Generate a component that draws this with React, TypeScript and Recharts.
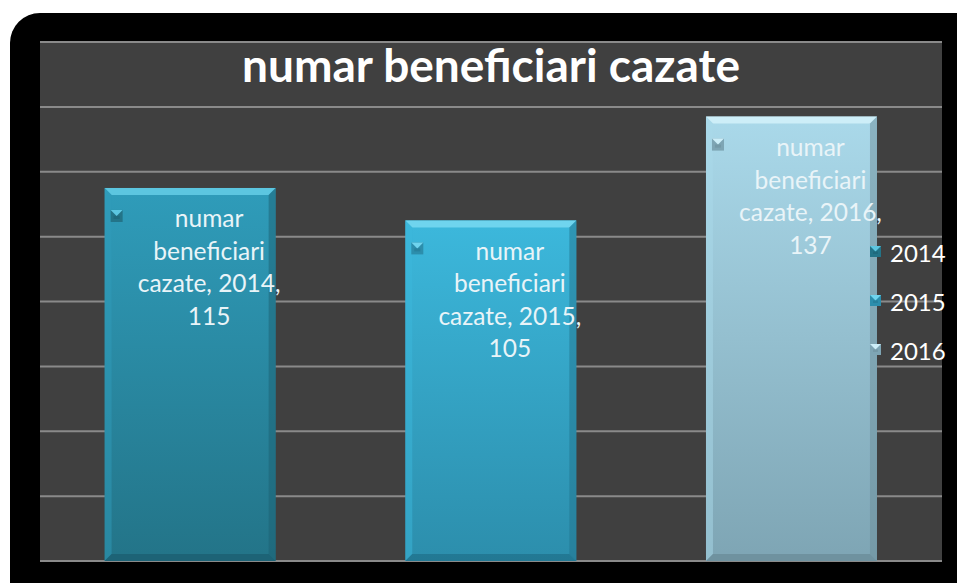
import React from "react";
import { BarChart, Bar, XAxis, YAxis, CartesianGrid, Cell, LabelList } from "recharts";

const seriesName = "numar beneficiari cazate";
const years = ["2014", "2015", "2016"];
const values = [115, 105, 137];
const yTicks = [0, 20, 40, 60, 80, 100, 120, 140, 160];

// top / bottom / bevel colours per year
const palette = [
  { top: "#2f9cba", bottom: "#237488", light: "#5cc6e0", dark: "#1b5f72" },
  { top: "#3cb8dc", bottom: "#2c8eac", light: "#6fd4ee", dark: "#21738d" },
  { top: "#aad9ea", bottom: "#7ea5b4", light: "#cdeef8", dark: "#6b8d9a" },
];

const data = years.map((year, i) => ({ year, value: values[i] }));

const FONT = "Lato, 'Open Sans', sans-serif";

function BevelBar(props: any) {
  const { x, y, width, height, index } = props;
  const c = palette[index];
  const b = 7;
  return (
    <g>
      <rect x={x} y={y} width={width} height={height} fill={`url(#barGrad${index})`} />
      <polygon points={`${x},${y} ${x + width},${y} ${x + width - b},${y + b} ${x + b},${y + b}`} fill={c.light} />
      <polygon points={`${x},${y} ${x + b},${y + b} ${x + b},${y + height - b} ${x},${y + height}`} fill={c.top} opacity={0.5} />
      <polygon points={`${x + width},${y} ${x + width - b},${y + b} ${x + width - b},${y + height - b} ${x + width},${y + height}`} fill={c.dark} opacity={0.5} />
      <polygon points={`${x},${y + height} ${x + b},${y + height - b} ${x + width - b},${y + height - b} ${x + width},${y + height}`} fill={c.dark} opacity={0.8} />
    </g>
  );
}

function KeyIcon({ x, y, index, size = 12 }: any) {
  const c = palette[index];
  const b = 3;
  return (
    <g>
      <rect x={x} y={y} width={size} height={size} fill={c.bottom} />
      <polygon points={`${x},${y} ${x + size},${y} ${x + size / 2},${y + size / 2}`} fill={c.light} />
      <rect x={x + b} y={y + size / 2} width={size - 2 * b} height={size / 2 - b} fill={c.dark} opacity={0.5} />
    </g>
  );
}

function BarLabel(props: any) {
  const { x, y, width, value, index } = props;
  const lines = ["numar", "beneficiari", `cazate, ${years[index]},`, `${value}`];
  const cx = x + width / 2 + 19;
  return (
    <g>
      <KeyIcon x={x + 6} y={y + 22} index={index} />
      {lines.map((l, i) => (
        <text
          key={i}
          x={cx}
          y={y + 30 + i * 32.5}
          textAnchor="middle"
          dominantBaseline="central"
          fill="#e9f4f8"
          fontFamily={FONT}
          fontSize={24.5}
        >
          {l}
        </text>
      ))}
    </g>
  );
}

function YearLegend() {
  return (
    <svg width={90} height={130} style={{ position: "absolute", left: 868, top: 237 }}>
      {years.map((yr, i) => (
        <g key={yr}>
          <KeyIcon x={2} y={9 + i * 49} index={i} size={11} />
          <text x={22} y={15 + i * 49} dominantBaseline="central" fill="#ffffff" fontFamily={FONT} fontSize={24}>
            {yr}
          </text>
        </g>
      ))}
    </svg>
  );
}

export default function App() {
  return (
    <div style={{ position: "absolute", left: 0, top: 0, width: 957, height: 583, background: "#fff", overflow: "hidden" }}>
      <div style={{ position: "absolute", left: 10, top: 13, width: 990, height: 620, background: "#000", borderRadius: 30 }} />
      <div style={{ position: "absolute", left: 0, top: 0 }}>
        <BarChart width={957} height={583} data={data} margin={{ top: 42, right: 15, left: 40, bottom: 22 }} barCategoryGap="21.5%">
          <defs>
            {palette.map((c, i) => (
              <linearGradient key={i} id={`barGrad${i}`} x1="0" y1="0" x2="0" y2="1">
                <stop offset="0%" stopColor={c.top} />
                <stop offset="100%" stopColor={c.bottom} />
              </linearGradient>
            ))}
          </defs>
          <CartesianGrid vertical={false} stroke="#8a8a8a" strokeWidth={2} fill="#404040" />
          <XAxis dataKey="year" hide />
          <YAxis hide domain={[0, 160]} ticks={yTicks} />
          <Bar dataKey="value" name={seriesName} shape={<BevelBar />} isAnimationActive={false}>
            {data.map((d, i) => (
              <Cell key={d.year} fill={palette[i].top} />
            ))}
            <LabelList dataKey="value" content={<BarLabel />} />
          </Bar>
        </BarChart>
      </div>
      <YearLegend />
      <div
        style={{
          position: "absolute",
          left: 40,
          width: 902,
          top: 38,
          textAlign: "center",
          color: "#fff",
          fontFamily: FONT,
          fontWeight: 700,
          fontSize: 46,
          lineHeight: "54px",
        }}
      >
        {seriesName}
      </div>
    </div>
  );
}
